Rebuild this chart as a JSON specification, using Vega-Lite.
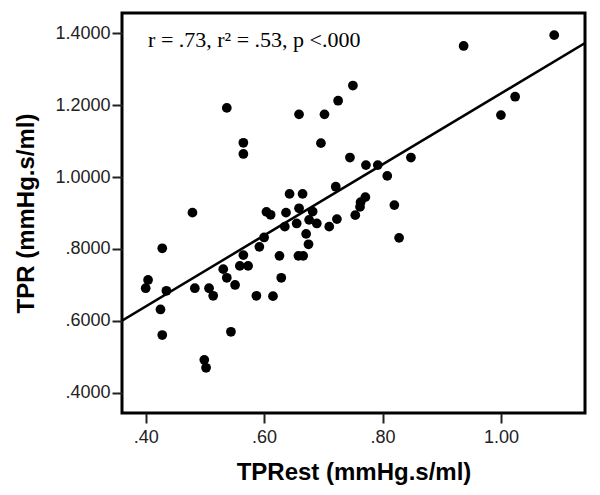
{
  "$schema": "https://vega.github.io/schema/vega-lite/v6.json",
  "width": 463,
  "height": 400,
  "autosize": "none",
  "padding": {"left": 122, "top": 13, "right": 15, "bottom": 82},
  "background": "white",
  "config": {
    "view": {"stroke": "black", "strokeWidth": 3},
    "axis": {
      "domain": false,
      "grid": false,
      "tickColor": "#222",
      "tickWidth": 2,
      "tickSize": 10,
      "labelFont": "Liberation Sans",
      "labelFontSize": 18,
      "labelColor": "#222",
      "titleFont": "Liberation Sans",
      "titleFontSize": 24,
      "titleFontWeight": "bold",
      "titleColor": "#000"
    }
  },
  "datasets": {
    "pts": [
      {"TPRest": 0.537, "TPR": 1.192},
      {"TPRest": 0.565, "TPR": 1.095},
      {"TPRest": 0.565, "TPR": 1.064},
      {"TPRest": 0.479, "TPR": 0.901},
      {"TPRest": 0.604, "TPR": 0.903},
      {"TPRest": 0.611, "TPR": 0.895},
      {"TPRest": 0.750, "TPR": 1.254},
      {"TPRest": 0.725, "TPR": 1.212},
      {"TPRest": 0.659, "TPR": 1.174},
      {"TPRest": 0.702, "TPR": 1.174},
      {"TPRest": 0.696, "TPR": 1.094},
      {"TPRest": 0.745, "TPR": 1.054},
      {"TPRest": 0.772, "TPR": 1.033},
      {"TPRest": 0.792, "TPR": 1.033},
      {"TPRest": 0.848, "TPR": 1.054},
      {"TPRest": 0.808, "TPR": 1.003},
      {"TPRest": 0.721, "TPR": 0.973},
      {"TPRest": 0.643, "TPR": 0.953},
      {"TPRest": 0.665, "TPR": 0.953},
      {"TPRest": 0.771, "TPR": 0.944},
      {"TPRest": 0.763, "TPR": 0.930},
      {"TPRest": 0.762, "TPR": 0.917},
      {"TPRest": 0.820, "TPR": 0.922},
      {"TPRest": 0.937, "TPR": 1.364},
      {"TPRest": 1.090, "TPR": 1.394},
      {"TPRest": 1.024, "TPR": 1.223},
      {"TPRest": 1.000, "TPR": 1.172},
      {"TPRest": 0.828, "TPR": 0.831},
      {"TPRest": 0.637, "TPR": 0.901},
      {"TPRest": 0.659, "TPR": 0.913},
      {"TPRest": 0.682, "TPR": 0.904},
      {"TPRest": 0.676, "TPR": 0.881},
      {"TPRest": 0.689, "TPR": 0.871},
      {"TPRest": 0.710, "TPR": 0.862},
      {"TPRest": 0.723, "TPR": 0.883},
      {"TPRest": 0.754, "TPR": 0.894},
      {"TPRest": 0.635, "TPR": 0.862},
      {"TPRest": 0.655, "TPR": 0.871},
      {"TPRest": 0.671, "TPR": 0.842},
      {"TPRest": 0.675, "TPR": 0.813},
      {"TPRest": 0.626, "TPR": 0.781},
      {"TPRest": 0.658, "TPR": 0.781},
      {"TPRest": 0.666, "TPR": 0.781},
      {"TPRest": 0.629, "TPR": 0.720},
      {"TPRest": 0.615, "TPR": 0.669},
      {"TPRest": 0.428, "TPR": 0.802},
      {"TPRest": 0.600, "TPR": 0.832},
      {"TPRest": 0.592, "TPR": 0.806},
      {"TPRest": 0.565, "TPR": 0.783},
      {"TPRest": 0.559, "TPR": 0.753},
      {"TPRest": 0.573, "TPR": 0.753},
      {"TPRest": 0.531, "TPR": 0.744},
      {"TPRest": 0.537, "TPR": 0.720},
      {"TPRest": 0.551, "TPR": 0.700},
      {"TPRest": 0.483, "TPR": 0.691},
      {"TPRest": 0.507, "TPR": 0.691},
      {"TPRest": 0.514, "TPR": 0.670},
      {"TPRest": 0.404, "TPR": 0.714},
      {"TPRest": 0.400, "TPR": 0.691},
      {"TPRest": 0.435, "TPR": 0.684},
      {"TPRest": 0.425, "TPR": 0.632},
      {"TPRest": 0.587, "TPR": 0.670},
      {"TPRest": 0.428, "TPR": 0.561},
      {"TPRest": 0.544, "TPR": 0.570},
      {"TPRest": 0.499, "TPR": 0.492},
      {"TPRest": 0.502, "TPR": 0.470}
    ],
    "fit": [
      {"TPRest": 0.36, "TPR": 0.601},
      {"TPRest": 1.142, "TPR": 1.372}
    ],
    "note": [
      {"TPRest": 0.404, "TPR": 1.381, "label": "r = .73, r² = .53, p <.000"}
    ]
  },
  "layer": [
    {
      "data": {"name": "pts"},
      "mark": {"type": "circle", "size": 95, "color": "#000", "opacity": 1},
      "encoding": {
        "x": {
          "field": "TPRest", "type": "quantitative",
          "scale": {"domain": [0.36, 1.142], "nice": false, "zero": false},
          "axis": {
            "values": [0.4, 0.6, 0.8, 1.0],
            "labelExpr": "datum.value < 1 ? slice(format(datum.value, '.2f'), 1) : format(datum.value, '.2f')",
            "labelPadding": 5,
            "titlePadding": 14,
            "title": "TPRest (mmHg.s/ml)"
          }
        },
        "y": {
          "field": "TPR", "type": "quantitative",
          "scale": {"domain": [0.3444, 1.4556], "nice": false, "zero": false},
          "axis": {
            "values": [0.4, 0.6, 0.8, 1.0, 1.2, 1.4],
            "labelExpr": "datum.value < 1 ? slice(format(datum.value, '.4f'), 1) : format(datum.value, '.4f')",
            "labelPadding": 2,
            "titlePadding": 16,
            "title": "TPR (mmHg.s/ml)"
          }
        }
      }
    },
    {
      "data": {"name": "fit"},
      "mark": {"type": "line", "color": "#000", "strokeWidth": 2.5, "clip": true},
      "encoding": {
        "x": {"field": "TPRest", "type": "quantitative"},
        "y": {"field": "TPR", "type": "quantitative"}
      }
    },
    {
      "data": {"name": "note"},
      "mark": {"type": "text", "align": "left", "baseline": "middle", "font": "Liberation Serif", "fontSize": 22, "color": "#000"},
      "encoding": {
        "x": {"field": "TPRest", "type": "quantitative"},
        "y": {"field": "TPR", "type": "quantitative"},
        "text": {"field": "label"}
      }
    }
  ]
}
